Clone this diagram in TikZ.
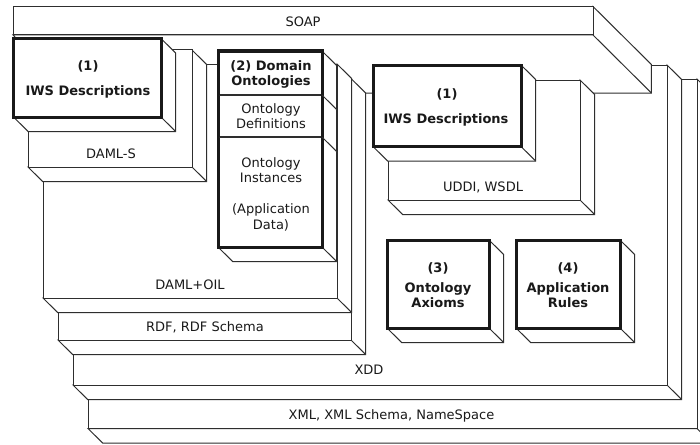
\documentclass[tikz,border=0pt]{standalone}
\usepackage{fontspec}
\setmainfont{DejaVu Sans}
\tikzset{
  edge/.style={draw=black!82, line width=1pt, fill=white, line join=miter},
  heavy/.style={line width=3pt, draw=black!90},
  lbl/.style={font=\fontsize{13}{16}\selectfont, inner sep=0pt, anchor=base, text=black!90},
  blbl/.style={lbl, font=\fontsize{13}{16}\selectfont\bfseries},
}
% A slab seen obliquely: front face (x0,y0)-(x1,y1), extruded #6 levels
% toward the lower right; side and bottom faces first, front face on top.
\newcommand\layerbox[6][]{%
  \pgfmathsetmacro\lbdx{#6*14.6}%
  \pgfmathsetmacro\lbdy{#6*14.5}%
  \filldraw[edge] (#4,#3) -- (#4+\lbdx,#3+\lbdy) -- (#4+\lbdx,#5+\lbdy)
     -- (#2+\lbdx,#5+\lbdy) -- (#2,#5) -- (#4,#5) -- cycle;
  \draw[edge] (#4,#5) -- (#4+\lbdx,#5+\lbdy);
  \filldraw[edge,#1] (#2,#3) rectangle (#4,#5);
}
\begin{document}
\begin{tikzpicture}[x=1pt,y=-1pt]
\useasboundingbox (0,0) rectangle (700,444);
\fill[white] (0,0) rectangle (700,444);
\clip (0,0) rectangle (700,444);

% layers, painted from the deepest one forward
\layerbox{88}{79}{697}{428.5}{1}      % XML, XML Schema, NameSpace
\layerbox{73}{65}{667}{385}{1}        % XDD
\layerbox{13}{6.5}{593}{35}{4}        % SOAP
\layerbox{388}{80}{580}{200}{1}       % UDDI, WSDL
\layerbox{58}{78.5}{351}{340}{1}      % RDF, RDF Schema
\layerbox[heavy]{387}{240}{489}{328}{1} % (3) Ontology Axioms
\layerbox[heavy]{516}{240}{620}{328}{1} % (4) Application Rules
\layerbox{43}{64}{337}{298}{1}        % DAML+OIL
\layerbox[heavy]{373}{65}{521}{146.5}{1} % (1) IWS Descriptions, right
\layerbox{28}{50}{192}{167}{1}        % DAML-S
\layerbox[heavy]{218}{51}{322}{247}{1} % (2) Domain Ontologies
% compartments of the domain ontology block
\draw[edge, line width=1.2pt] (219.5,95) -- (320.5,95);
\draw[edge, line width=1.2pt] (219.5,137) -- (320.5,137);
\draw[edge] (322,95) -- (336.6,109.5);
\draw[edge] (322,137) -- (336.6,151.5);
\layerbox[heavy]{13.5}{38.5}{161}{117}{1} % (1) IWS Descriptions, left

% labels
\node[lbl] (soap) at (303,27) {SOAP};
\node[blbl] (iwsLnum) at (88,70) {(1)};
\node[blbl] (iwsL) at (88,95) {IWS Descriptions};
\node[lbl] (damls) at (111,158) {DAML-S};
\node[blbl] (dom1) at (271,70) {(2) Domain};
\node[blbl] (dom2) at (271,85) {Ontologies};
\node[lbl] (def1) at (271,113) {Ontology};
\node[lbl] (def2) at (271,128) {Definitions};
\node[lbl] (ins1) at (271,167) {Ontology};
\node[lbl] (ins2) at (271,182) {Instances};
\node[lbl] (app1) at (271,213) {(Application};
\node[lbl] (app2) at (271,229) {Data)};
\node[blbl] (iwsRnum) at (447,98) {(1)};
\node[blbl] (iwsR) at (446,123) {IWS Descriptions};
\node[lbl] (uddi) at (483,191) {UDDI, WSDL};
\node[lbl] (damloil) at (190,289) {DAML+OIL};
\node[lbl] (rdf) at (205,331) {RDF, RDF Schema};
\node[blbl] (ax0) at (438,272) {(3)};
\node[blbl] (ax1) at (438,292) {Ontology};
\node[blbl] (ax2) at (438,307) {Axioms};
\node[blbl] (ru0) at (568,272) {(4)};
\node[blbl] (ru1) at (568,292) {Application};
\node[blbl] (ru2) at (568,307) {Rules};
\node[lbl] (xdd) at (369,374) {XDD};
\node[lbl] (xml) at (391.5,419) {XML, XML Schema, NameSpace};
\end{tikzpicture}
\end{document}
